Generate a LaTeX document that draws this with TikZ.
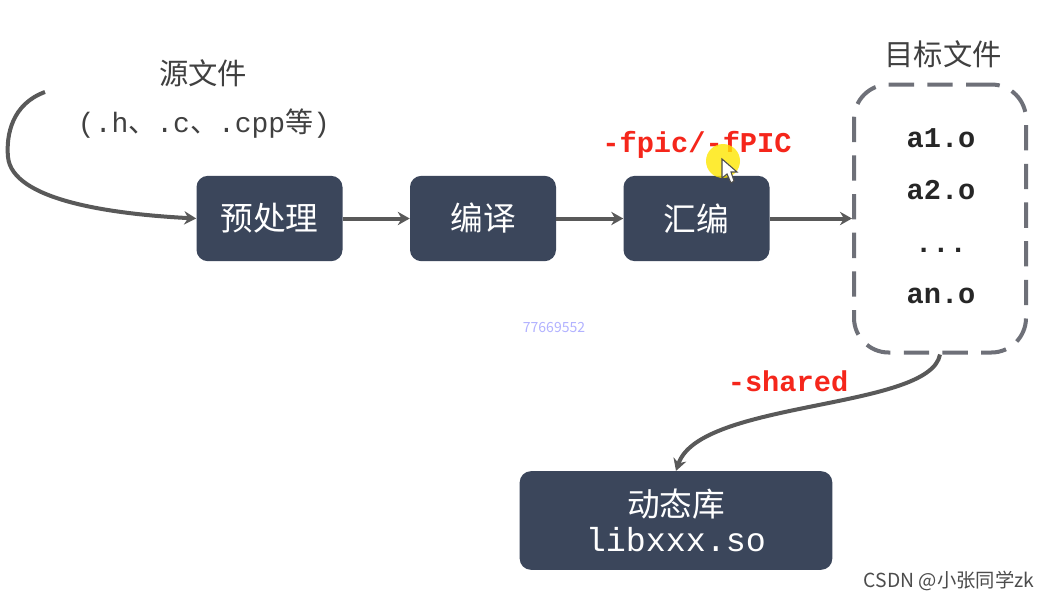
\documentclass[tikz,border=0pt]{standalone}
\usepackage{fontspec}
\setmainfont{Noto Sans CJK SC}
\setmonofont{Liberation Mono}
\newfontfamily\cjk{Noto Sans CJK SC}
\usetikzlibrary{arrows.meta}
\definecolor{boxblue}{HTML}{3B465B}
\definecolor{linegray}{HTML}{595959}
\definecolor{dashgray}{HTML}{6E7078}
\definecolor{optred}{HTML}{F5261B}
\tikzset{
	stage/.style={draw=none,fill=boxblue,text=white,rounded corners=8.5pt,minimum width=109.5pt,minimum height=64pt,inner sep=0pt,font=\fontsize{24.5}{28}\selectfont},
	flow/.style={draw=linegray,line width=3pt,-{Stealth[length=9pt,width=10pt]}},
	objname/.style={font=\ttfamily\bfseries\fontsize{21.5}{24}\selectfont,text=black!85},
	optname/.style={font=\ttfamily\bfseries\fontsize{21.5}{24}\selectfont,text=optred},
	title/.style={text=black!75,font=\fontsize{22}{26}\selectfont}
}
\begin{document}
\begin{tikzpicture}[x=0.75pt,y=-0.75pt]
	\useasboundingbox[fill=white] (0,0) rectangle (1048,600);
	\node[title] (srctitle) at (203,73) {源文件};
	\node[title,font=\ttfamily\fontsize{21}{24}\selectfont] (srcext) at (204,124) {(.h{\cjk 、}.c{\cjk 、}.cpp{\cjk 等})};
	\node[title] (objtitle) at (943,54) {目标文件};
	\node[stage] (pre) at (269.5,218.5) {预处理};
	\node[stage] (comp) at (483,218.5) {编译};
	\node[stage] (asm) at (696.5,218.5) {汇编};
	\node[draw=dashgray,line width=3pt,dash pattern=on 19pt off 10pt,rounded corners=26pt,minimum width=129pt,minimum height=201pt,inner sep=0pt] (objs) at (940,218.5) {};
	\node[objname] (a1) at (941,138) {a1.o};
	\node[objname] (a2) at (941,190) {a2.o};
	\node[objname] (dots) at (941,250) {...};
	\node[objname] (an) at (941,296) {an.o};
	\node[stage,minimum width=234.5pt,minimum height=74pt,align=center,font=\fontsize{24.5}{28}\selectfont] (lib) at (676,520.5) {动态库\\[-2pt]{\ttfamily\fontsize{25}{28}\selectfont libxxx.so}};
	\coordinate (start) at (45,92);
	\draw[flow] (start) .. controls (12,104) and (6,135) .. (8,157) .. controls (12,200) and (110,214) .. (pre.west);
	\draw[flow] (pre) -- (comp);
	\draw[flow] (comp) -- (asm);
	\draw[flow] (asm) -- (objs);
	\draw[flow] (objs.south) .. controls (930,410) and (700,400) .. (lib.north);
	\node[optname] (fpic) at (697,144.5) {-fpic/-fPIC};
	\node[optname] (shared) at (788,381) {-shared};
	% pointer
	\fill[yellow!90!orange,opacity=.8] (723,161) circle (17);
	\draw[black!70,fill=white,line width=.8pt] (722,159) -- (722,178) -- (727,174) -- (731,183) -- (734,181) -- (731,172) -- (737,172) -- cycle;
	\node[text=blue!30!white,font=\fontsize{10.5}{12}\selectfont] (mark) at (554,328) {77669552};
	\node[text=black!70,font=\fontsize{14.5}{17}\selectfont,anchor=east] (csdn) at (1039,581) {CSDN @小张同学zk};
\end{tikzpicture}
\end{document}
